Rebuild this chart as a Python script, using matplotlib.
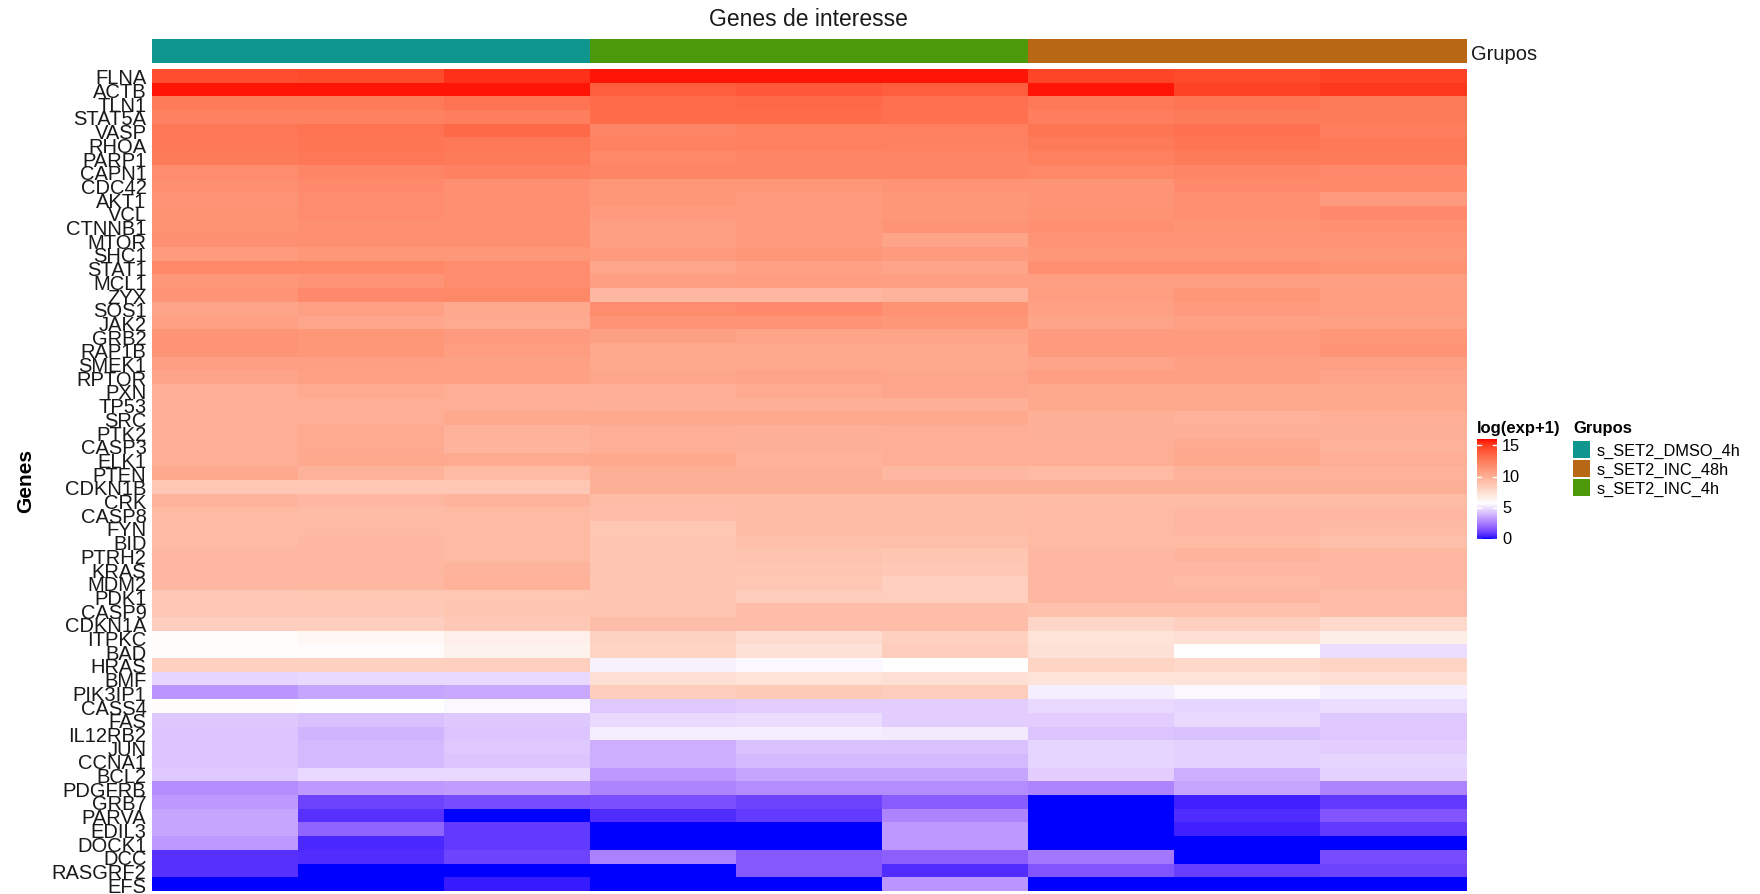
import numpy as np
import matplotlib
matplotlib.use('Agg')
import matplotlib.pyplot as plt
from matplotlib.colors import ListedColormap

plt.rcParams['font.family'] = ['Liberation Sans', 'DejaVu Sans']

genes = ["FLNA", "ACTB", "TLN1", "STAT5A", "VASP", "RHOA", "PARP1", "CAPN1", "CDC42", "AKT1",
         "VCL", "CTNNB1", "MTOR", "SHC1", "STAT1", "MCL1", "ZYX", "SOS1", "JAK2", "GRB2",
         "RAP1B", "SMEK1", "RPTOR", "PXN", "TP53", "SRC", "PTK2", "CASP3", "ELK1", "PTEN",
         "CDKN1B", "CRK", "CASP8", "FYN", "BID", "PTRH2", "KRAS", "MDM2", "PDK1", "CASP9",
         "CDKN1A", "ITPKC", "BAD", "HRAS", "BMF", "PIK3IP1", "CASS4", "FAS", "IL12RB2", "JUN",
         "CCNA1", "BCL2", "PDGFRB", "GRB7", "PARVA", "EDIL3", "DOCK1", "DCC", "RASGRF2", "EFS"]

groups = ["s_SET2_DMSO_4h", "s_SET2_INC_4h", "s_SET2_INC_48h"]
group_colors = {"s_SET2_DMSO_4h": "#0F968F", "s_SET2_INC_4h": "#4C9A0A", "s_SET2_INC_48h": "#B86714"}
legend_order = ["s_SET2_DMSO_4h", "s_SET2_INC_48h", "s_SET2_INC_4h"]

# log(exp+1), 3 replicates per group
dmso_4h = [
    [14.4, 14.5, 15.3], [15.8, 15.8, 15.8], [12.5, 12.5, 12.9], [12.2, 12.2, 12.4], [12.7, 12.9, 13.3],
    [12.7, 12.8, 12.7], [12.5, 12.7, 12.5], [11.7, 12.0, 12.2], [11.5, 11.8, 11.5], [11.3, 11.7, 11.5],
    [11.4, 11.7, 11.5], [11.4, 11.5, 11.5], [11.5, 11.5, 11.5], [11.0, 11.2, 11.2], [11.9, 11.9, 11.7],
    [11.2, 11.3, 11.7], [11.3, 11.8, 11.9], [10.5, 10.7, 10.3], [10.7, 10.4, 10.2], [11.3, 11.2, 11.0],
    [11.3, 11.2, 10.9], [10.8, 10.8, 10.7], [10.5, 10.7, 10.7], [10.0, 10.2, 10.0], [10.0, 10.0, 10.0],
    [10.0, 10.0, 10.3], [10.0, 10.2, 9.8], [10.0, 10.2, 9.7], [10.0, 10.3, 10.2], [10.3, 9.8, 9.4],
    [8.7, 8.7, 8.7], [9.7, 9.5, 9.7], [9.4, 9.3, 9.4], [9.4, 9.4, 9.4], [9.4, 9.5, 9.4],
    [9.5, 9.5, 9.4], [9.5, 9.5, 9.7], [9.5, 9.5, 9.8], [8.6, 8.7, 8.7], [8.6, 8.6, 8.8],
    [8.3, 8.3, 8.6], [5.9, 6.1, 6.5], [5.8, 5.9, 6.4], [8.2, 8.2, 8.3], [4.7, 4.8, 4.8],
    [3.1, 3.5, 3.6], [5.8, 5.7, 5.5], [4.4, 4.2, 4.4], [4.3, 3.9, 4.3], [4.3, 4.0, 4.4],
    [4.3, 4.0, 4.3], [4.4, 4.8, 4.8], [2.9, 3.2, 3.3], [3.2, 1.1, 1.3], [3.5, 0.7, 0.0],
    [3.5, 1.9, 0.9], [3.2, 0.5, 0.9], [0.7, 0.6, 1.1], [0.7, 0.0, 0.0], [0.0, 0.0, 0.3],
]
inc_4h = [
    [15.8, 15.8, 15.8], [13.8, 14.0, 13.8], [13.2, 13.3, 13.0], [13.2, 13.2, 13.0], [12.0, 12.3, 12.3],
    [12.2, 12.3, 12.2], [11.9, 12.0, 12.0], [12.0, 12.0, 12.0], [11.2, 11.2, 11.3], [11.2, 11.0, 11.2],
    [11.0, 11.0, 11.2], [10.8, 11.0, 11.3], [10.8, 11.0, 10.5], [11.0, 11.2, 11.0], [10.4, 10.7, 10.5],
    [10.8, 10.9, 10.8], [9.5, 9.5, 9.7], [11.7, 11.8, 11.4], [11.3, 11.3, 11.2], [10.7, 10.5, 10.5],
    [10.3, 10.3, 10.3], [10.3, 10.3, 10.3], [10.4, 10.5, 10.4], [10.0, 10.2, 10.4], [9.9, 9.9, 9.9],
    [10.3, 10.3, 10.3], [10.0, 9.9, 10.0], [10.0, 9.9, 10.0], [10.3, 9.8, 10.0], [9.9, 9.9, 9.5],
    [9.9, 9.9, 9.9], [9.3, 9.3, 9.3], [9.2, 9.3, 9.3], [8.7, 9.3, 9.3], [8.8, 9.1, 9.1],
    [8.8, 8.9, 8.8], [8.8, 8.8, 8.6], [8.8, 8.7, 8.3], [8.8, 8.4, 8.3], [8.8, 9.2, 9.2],
    [9.2, 9.2, 9.2], [8.1, 7.6, 8.2], [8.0, 7.3, 8.4], [5.4, 5.5, 5.7], [7.4, 7.2, 7.4],
    [8.4, 8.5, 8.4], [4.4, 4.5, 4.5], [4.8, 4.9, 4.5], [5.3, 5.3, 5.2], [3.7, 4.2, 4.2],
    [3.7, 4.0, 4.0], [3.2, 3.5, 3.5], [2.7, 2.9, 2.9], [1.4, 1.1, 1.7], [0.6, 0.9, 2.7],
    [0.0, 0.0, 3.2], [0.0, 0.0, 3.2], [2.6, 1.6, 1.8], [0.0, 1.6, 0.6], [0.0, 0.0, 3.1],
]
inc_48h = [
    [14.7, 14.5, 14.8], [15.8, 14.8, 15.1], [12.6, 12.8, 12.5], [12.4, 12.5, 12.5], [12.8, 13.0, 12.4],
    [12.5, 12.8, 12.6], [12.3, 12.5, 12.5], [11.9, 12.0, 11.8], [11.3, 11.8, 11.9], [11.3, 11.5, 11.0],
    [11.4, 11.5, 11.8], [11.5, 11.4, 11.5], [11.3, 11.3, 11.3], [11.2, 11.2, 11.2], [11.5, 11.5, 11.4],
    [10.8, 10.8, 10.8], [10.9, 11.2, 10.9], [10.7, 11.0, 10.9], [10.5, 10.7, 10.7], [11.0, 11.0, 11.2],
    [11.0, 11.0, 11.3], [10.5, 10.8, 10.7], [10.8, 10.8, 10.5], [10.3, 10.3, 10.3], [10.3, 10.3, 10.3],
    [9.9, 9.8, 10.0], [9.9, 9.9, 9.9], [10.0, 10.2, 9.8], [10.0, 10.3, 10.0], [9.4, 9.8, 9.8],
    [9.9, 9.9, 9.9], [9.3, 9.3, 9.3], [9.4, 9.5, 9.5], [9.4, 9.5, 9.4], [9.4, 9.4, 9.1],
    [9.5, 9.7, 9.5], [9.5, 9.5, 9.5], [9.5, 9.4, 9.5], [9.5, 9.5, 9.2], [9.0, 9.0, 9.2],
    [7.9, 8.3, 7.8], [7.2, 7.4, 6.6], [7.3, 5.7, 4.9], [8.0, 7.8, 8.0], [7.2, 7.2, 7.4],
    [5.3, 5.5, 5.3], [4.8, 4.7, 4.9], [4.5, 4.8, 4.4], [4.3, 4.2, 4.4], [4.7, 4.6, 4.5],
    [4.7, 4.6, 4.7], [4.5, 3.7, 4.6], [2.7, 3.5, 2.7], [0.0, 0.4, 0.9], [0.0, 0.6, 1.5],
    [0.0, 0.4, 0.9], [0.0, 0.0, 0.0], [2.4, 0.0, 1.3], [1.5, 1.0, 1.1], [0.0, 0.0, 0.0],
]

cbar_ticks = [0, 5, 10, 15]
VMIN, VMID, VMAX = 0.0, 5.7, 16.0


# --- blue-white-red ramp interpolated in LAB (like colorRamp2) ---
def srgb_to_lab(rgb):
    c = np.asarray(rgb, float)
    lin = np.where(c <= 0.04045, c / 12.92, ((c + 0.055) / 1.055) ** 2.4)
    M = np.array([[0.4124, 0.3576, 0.1805], [0.2126, 0.7152, 0.0722], [0.0193, 0.1192, 0.9505]])
    xyz = M @ lin / np.array([0.95047, 1.0, 1.08883])
    f = np.where(xyz > 0.008856, np.cbrt(xyz), 7.787 * xyz + 16 / 116)
    return np.array([116 * f[1] - 16, 500 * (f[0] - f[1]), 200 * (f[1] - f[2])])


def lab_to_srgb(lab):
    L, a, b = lab
    fy = (L + 16) / 116
    fx = fy + a / 500
    fz = fy - b / 200
    f = np.array([fx, fy, fz])
    xyz = np.where(f ** 3 > 0.008856, f ** 3, (f - 16 / 116) / 7.787) * np.array([0.95047, 1.0, 1.08883])
    Minv = np.array([[3.2406, -1.5372, -0.4986], [-0.9689, 1.8758, 0.0415], [0.0557, -0.2040, 1.0570]])
    lin = np.clip(Minv @ xyz, 0, 1)
    c = np.where(lin <= 0.0031308, 12.92 * lin, 1.055 * lin ** (1 / 2.4) - 0.055)
    return np.clip(c, 0, 1)


blue, white, red = srgb_to_lab([0, 0, 1]), srgb_to_lab([1, 1, 1]), srgb_to_lab([1, 0, 0])
cols = []
for v in np.linspace(VMIN, VMAX, 512):
    if v <= VMID:
        t = (v - VMIN) / (VMID - VMIN)
        cols.append(lab_to_srgb(blue + t * (white - blue)))
    else:
        t = (v - VMID) / (VMAX - VMID)
        cols.append(lab_to_srgb(white + t * (red - white)))
cmap = ListedColormap(cols)

data = np.hstack([np.array(dmso_4h), np.array(inc_4h), np.array(inc_48h)])
col_groups = [g for g in groups for _ in range(3)]

W, H = 1760, 895
fig = plt.figure(figsize=(W / 100, H / 100), dpi=100)


def px_axes(x0, y0, x1, y1):
    return fig.add_axes([x0 / W, 1 - y1 / H, (x1 - x0) / W, (y1 - y0) / H])


# heatmap body
ax = px_axes(152, 70, 1466, 892)
ax.imshow(data, aspect='auto', cmap=cmap, vmin=VMIN, vmax=VMAX, interpolation='nearest')
ax.set_yticks(range(len(genes)))
ax.set_yticklabels(genes, fontsize=14.5, color='#1a1a1a')
ax.set_xticks([])
ax.tick_params(axis='y', length=0, pad=4)
for s in ax.spines.values():
    s.set_visible(False)
ax.set_ylabel("Genes", fontsize=15, fontweight='bold', labelpad=12)

# column annotation
ax_ann = px_axes(152, 40, 1466, 64)
ann_cmap = ListedColormap([group_colors[g] for g in groups])
ax_ann.imshow(np.array([[groups.index(g) for g in col_groups]]), aspect='auto',
              cmap=ann_cmap, vmin=-0.5, vmax=len(groups) - 0.5, interpolation='nearest')
ax_ann.set_xticks([])
ax_ann.set_yticks([])
for s in ax_ann.spines.values():
    s.set_visible(False)
fig.text(1471 / W, 1 - 54 / H, "Grupos", fontsize=14.5, va='center', ha='left', color='#1a1a1a')

fig.text(808 / W, 1 - 20 / H, "Genes de interesse", fontsize=16.5, ha='center', va='center',
         color='#1a1a1a')

# colour legend
fig.text(1477 / W, 1 - 429 / H, "log(exp+1)", fontsize=12, fontweight='bold', va='center')
cax = px_axes(1477, 440, 1497, 540)
grad = np.linspace(VMIN, VMAX, 256).reshape(-1, 1)
cax.imshow(grad, aspect='auto', cmap=cmap, vmin=VMIN, vmax=VMAX, origin='lower',
           extent=[0, 1, VMIN, VMAX])
cax.set_xlim(0, 1)
cax.set_ylim(VMIN, VMAX)
cax.set_xticks([])
cax.set_yticks([])
for s in cax.spines.values():
    s.set_visible(False)
for t in cbar_ticks:
    cax.plot([0, 0.2], [t, t], color='white', lw=1)
    cax.plot([0.8, 1], [t, t], color='white', lw=1)
    cax.text(1.25, t, str(t), fontsize=11.8, va='center', ha='left', clip_on=False)

# group legend
fig.text(1573 / W, 1 - 429 / H, "Grupos", fontsize=12, fontweight='bold', va='center')
for i, g in enumerate(legend_order):
    y0 = 442 + i * 19
    lax = px_axes(1573, y0, 1590, y0 + 17)
    lax.set_facecolor(group_colors[g])
    lax.set_xticks([])
    lax.set_yticks([])
    for s in lax.spines.values():
        s.set_visible(False)
    fig.text(1597 / W, 1 - (y0 + 9) / H, g, fontsize=11.8, va='center', ha='left')

fig.savefig("out.png", dpi=100)
